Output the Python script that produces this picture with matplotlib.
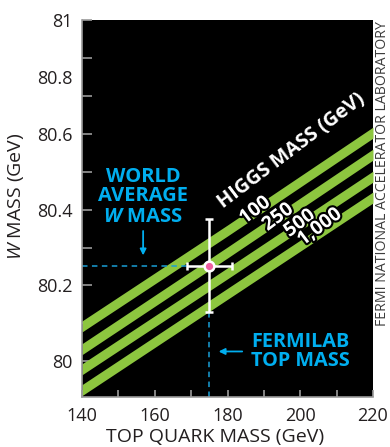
import numpy as np
import matplotlib.pyplot as plt
import matplotlib.patheffects as pe

plt.rcParams['font.family'] = ['Open Sans', 'DejaVu Sans']
plt.rcParams['mathtext.fontset'] = 'custom'
plt.rcParams['mathtext.rm'] = 'Open Sans'
plt.rcParams['mathtext.it'] = 'Open Sans:italic'
plt.rcParams['mathtext.bfit'] = 'Open Sans:italic:bold'

# W mass predicted vs top mass, one band per Higgs mass
top_mass = [140, 180, 220]
higgs_labels = ['100', '250', '500', '1,000']
w_higgs_100 = [80.092, 80.345, 80.603]
w_higgs_250 = [80.032, 80.287, 80.545]
w_higgs_500 = [79.979, 80.232, 80.487]
w_higgs_1000 = [79.924, 80.178, 80.432]

# measurement (Fermilab top mass, world average W mass)
meas_top, meas_top_err = 175.0, 6.1
meas_w, meas_w_err = 80.252, 0.123

xticks = [140, 160, 180, 200, 220]
yticks = [80.0, 80.2, 80.4, 80.6, 80.9]
ytick_labels = ['80', '80.2', '80.4', '80.6', '81']

green = '#8dc63f'
cyan = '#00aeef'
dash_blue = '#1a9fd6'
grey = '#9a9a9a'
ink = '#231f20'

fig = plt.figure(figsize=(3.9, 4.47), dpi=100)
ax = fig.add_axes([0.2103, 0.1119, 0.7461, 0.8434])
ax.set_facecolor('black')
ax.set_xlim(140, 220)
ax.set_ylim(79.906, 80.9)

# bands
for w in [w_higgs_100, w_higgs_250, w_higgs_500, w_higgs_1000]:
    w = np.array(w)
    ax.fill_between(top_mass, w - 0.0145, w + 0.0145, color=green, lw=0, zorder=2)

# dashed guide lines
ax.plot([140, meas_top - meas_top_err], [meas_w, meas_w], color=dash_blue,
        lw=1.1, ls=(0, (3.6, 2.9)), zorder=3)
ax.plot([meas_top, meas_top], [79.906, meas_w - meas_w_err], color=dash_blue,
        lw=1.1, ls=(0, (3.6, 2.9)), zorder=3)

# measurement point
ax.errorbar(meas_top, meas_w, xerr=meas_top_err, yerr=meas_w_err, fmt='none',
            ecolor='white', elinewidth=1.8, capsize=3, capthick=1.8, zorder=4)
ax.plot(meas_top, meas_w, 'o', mfc='#ee5fa0', mec='white', ms=7, mew=1.8, zorder=5)

# band labels
stroke = [pe.withStroke(linewidth=3, foreground='black')]
label_pos = [(187.6, 80.398), (193.9, 80.380), (199.9, 80.364), (205.4, 80.354)]
for lab, (x, y) in zip(higgs_labels, label_pos):
    ax.text(x, y, lab, color='white', fontsize=14, fontweight='bold', rotation=37,
            ha='center', va='center', rotation_mode='anchor', path_effects=stroke, zorder=6)
ax.text(197.7, 80.555, 'HIGGS MASS (GeV)', color='white', fontsize=14.3, fontweight='bold',
        rotation=37, ha='center', va='center', rotation_mode='anchor', zorder=6)

# annotations
ax.text(156.8, 80.485, 'WORLD', color=cyan, fontsize=14.5, fontweight='bold', ha='center', va='center')
ax.text(156.8, 80.435, 'AVERAGE', color=cyan, fontsize=14.5, fontweight='bold', ha='center', va='center')
ax.text(156.8, 80.38, r'$\mathbfit{W}$ MASS', color=cyan, fontsize=14.5, fontweight='bold', ha='center', va='center')
ax.annotate('', xy=(156.8, 80.272), xytext=(156.8, 80.351),
            arrowprops=dict(arrowstyle='-|>', color=cyan, lw=1.3, mutation_scale=9))

ax.text(199.9, 80.05, 'FERMILAB', color=cyan, fontsize=14.3, fontweight='bold', ha='center', va='center')
ax.text(199.9, 80.0, 'TOP MASS', color=cyan, fontsize=14.3, fontweight='bold', ha='center', va='center')
ax.annotate('', xy=(176.8, 80.026), xytext=(184.8, 80.026),
            arrowprops=dict(arrowstyle='-|>', color=cyan, lw=1.3, mutation_scale=9))

# axes styling
for s in ['top', 'right']:
    ax.spines[s].set_visible(False)
for s in ['left', 'bottom']:
    ax.spines[s].set_color(grey)
    ax.spines[s].set_linewidth(1.2)
    ax.spines[s].set_zorder(7)

ax.set_xticks(xticks)
ax.set_xticks([150, 170, 190, 210], minor=True)
ax.set_yticks(yticks)
ax.set_yticklabels(ytick_labels)
ax.set_yticks([80.1, 80.3, 80.5, 80.7, 80.8], minor=True)
ax.tick_params(which='both', direction='in', length=7, width=1.2, color=grey,
               labelcolor=ink, labelsize=13)
ax.tick_params(axis='x', which='both', length=5, pad=7)
ax.tick_params(axis='y', pad=7)
ax.annotate('80.8', xy=(0, 80.75), xycoords=('axes fraction', 'data'), xytext=(-7, 0),
            textcoords='offset points', ha='right', va='center_baseline', fontsize=13, color=ink)

ax.text(0.457, -0.106, 'TOP QUARK MASS (GeV)', transform=ax.transAxes, ha='center',
        va='center', fontsize=14, color=ink)
ax.text(-0.227, 0.533, r'$\mathit{W}$ MASS (GeV)', transform=ax.transAxes, ha='center',
        va='center', rotation=90, fontsize=14, color=ink)

fig.text(0.982, 0.612, 'FERMI NATIONAL ACCELERATOR LABORATORY', rotation=90,
         ha='center', va='center', fontsize=10.2, color='#3c3c3c')

fig.savefig('out.png', dpi=100)
